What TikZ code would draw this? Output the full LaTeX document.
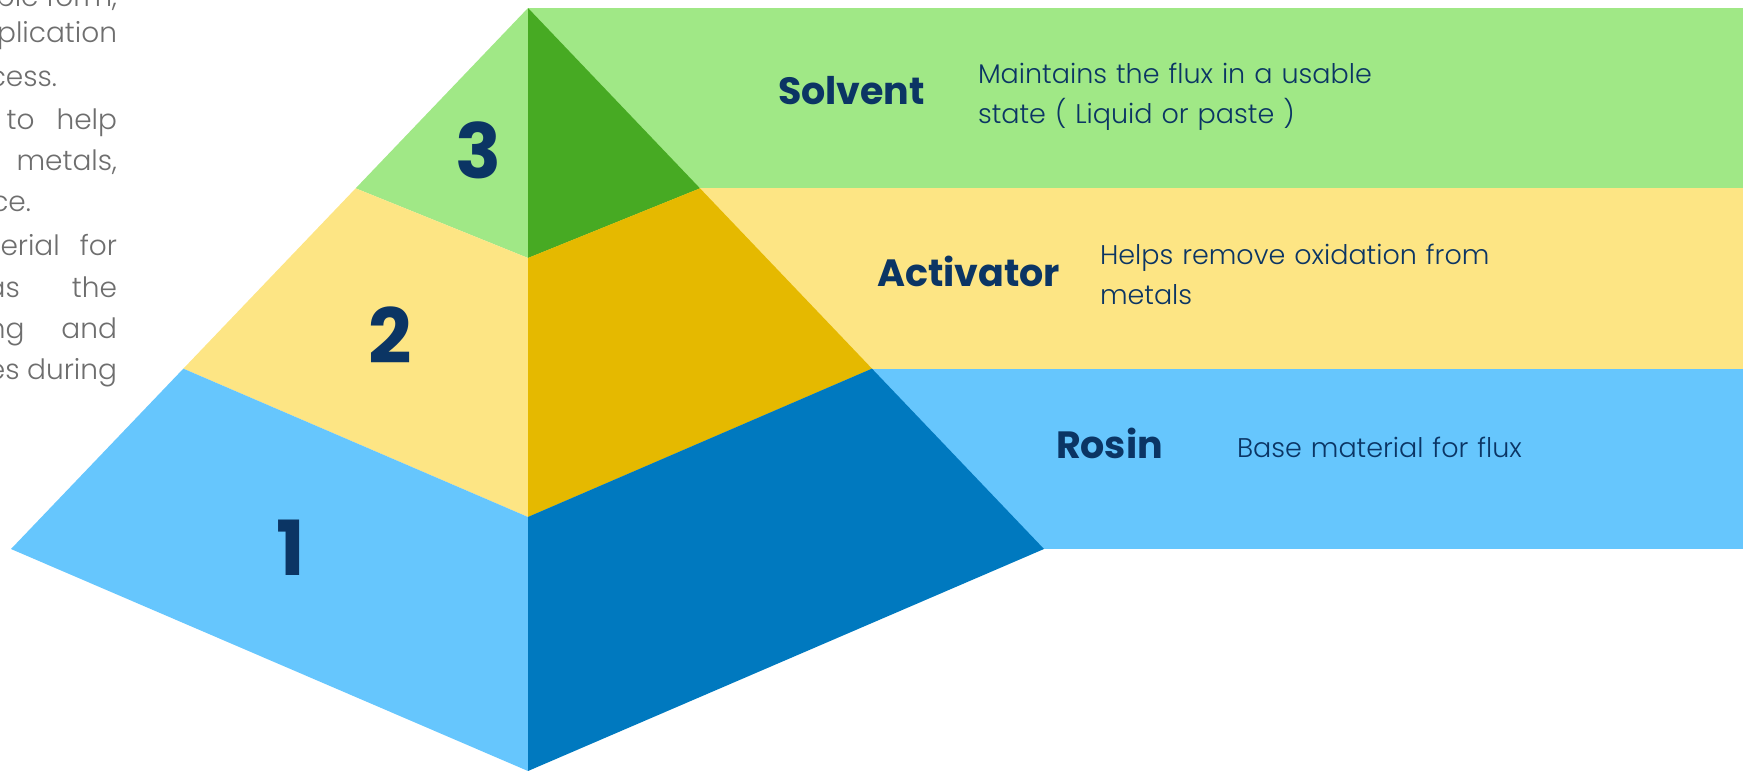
\documentclass[tikz,border=0pt]{standalone}
\usepackage{fontspec}
\setmainfont{Poppins}
\newfontfamily\lightfont{Poppins Light}
\usetikzlibrary{calc}

\definecolor{navy}{HTML}{0B3564}
\definecolor{greytext}{HTML}{6E6E6E}
\definecolor{greenlight}{HTML}{A0E886}
\definecolor{greendark}{HTML}{47AA23}
\definecolor{yellowlight}{HTML}{FDE584}
\definecolor{yellowdark}{HTML}{E5B900}
\definecolor{bluelight}{HTML}{66C6FD}
\definecolor{bluedark}{HTML}{0079BF}

\begin{document}
\begin{tikzpicture}[
x=1pt,
y=-1pt,
every node/.style={
inner sep=0pt,
outer sep=0pt
},
title/.style={
anchor=base west,
text=navy,
font=\fontsize{38}{40}\selectfont\bfseries
},
desc/.style={
anchor=base west,
align=left,
text width=520pt,
text=navy,
font=\lightfont\fontsize{27}{40}\selectfont
},
number/.style={
text=navy,
font=\fontsize{76}{80}\selectfont\bfseries
},
side/.style={
anchor=base east,
text=greytext,
font=\lightfont\fontsize{28}{41}\selectfont
}
]
\useasboundingbox (0,0) rectangle (1743,771);

% corners of the pyramid
\coordinate (apex) at (528,8);
\coordinate (left) at (11,549);
\coordinate (right) at (1044,549);
\coordinate (bottom) at (528,771);
\coordinate (edge) at (1743,0);

\coordinate (l1) at ($(apex)!1/3!(left)$);
\coordinate (l2) at ($(apex)!2/3!(left)$);
\coordinate (r1) at ($(apex)!1/3!(right)$);
\coordinate (r2) at ($(apex)!2/3!(right)$);
\coordinate (c1) at (528,258);
\coordinate (c2) at (528,517);

% bands behind the pyramid
\fill[greenlight] (apex) rectangle (edge |- r1);
\fill[yellowlight] (apex |- r1) rectangle (edge |- r2);
\fill[bluelight] (apex |- r2) rectangle (edge |- right);

% faces
\fill[greenlight] (apex) -- (l1) -- (c1) -- cycle;
\fill[greendark] (apex) -- (r1) -- (c1) -- cycle;
\fill[yellowlight] (l1) -- (l2) -- (c2) -- (c1) -- cycle;
\fill[yellowdark] (r1) -- (r2) -- (c2) -- (c1) -- cycle;
\fill[bluelight] (l2) -- (left) -- (bottom) -- (c2) -- cycle;
\fill[bluedark] (r2) -- (right) -- (bottom) -- (c2) -- cycle;

\node[number] (three) at (478,150) {3};
\node[number] (two) at (390,335) {2};
\node[number] (one) at (291,548) {1};

\node[title] (solvent) at (778,104) {Solvent};
\node[desc] (solventtext) at (978,83)
{Maintains the flux in a usable\\state ( Liquid or paste )};

\node[title] (activator) at (877,286) {Activator};
\node[desc] (activatortext) at (1100,264)
{Helps remove oxidation from\\metals};

\node[title] (rosin) at (1056,458) {Rosin};
\node[desc] (rosintext) at (1237,457) {Base material for flux};

% text running in from the left
\node[side] (solventpara) at (117,6) {ble form,};
\node[side] (solventparab) at (117,42) {plication};
\node[side] (solventparac) at (57,86) {cess.};
\node[side] (activatorpara) at (117,129) {to\hspace{22pt}help};
\node[side] (activatorparab) at (117,170) {metals,};
\node[side] (activatorparac) at (31,211) {ce.};
\node[side] (rosinpara) at (117,255) {terial\hspace{20pt}for};
\node[side] (rosinparab) at (117,297) {as\hspace{52pt}the};
\node[side] (rosinparac) at (117,338) {ng\hspace{37pt}and};
\node[side] (rosinparad) at (117,379) {es during};

\end{tikzpicture}
\end{document}
